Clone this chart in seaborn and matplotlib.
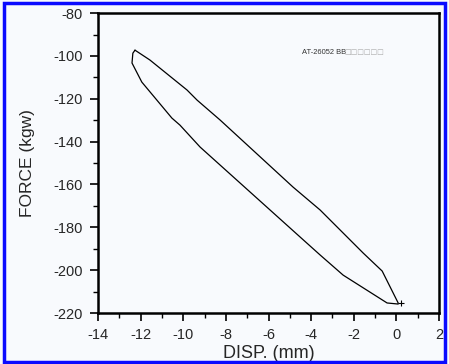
import numpy as np
import pandas as pd
import seaborn as sns
import matplotlib.pyplot as plt
from matplotlib.patches import Rectangle
from matplotlib.ticker import MultipleLocator

# hysteresis loop (loading branch then unloading branch)
disp = [-12.26, -11.56, -9.82, -9.35, -8.27, -4.85, -3.58, -1.56, -0.67, 0.08,
        0.08, -0.44, -2.50, -3.58, -4.52, -9.21, -10.15, -10.53, -11.94, -12.40, -12.36, -12.26]
force = [-97.3, -101.9, -115.9, -120.6, -129.9, -161.2, -171.9, -192.0, -200.4, -215.3,
         -215.8, -215.3, -202.3, -192.9, -184.5, -142.5, -132.3, -129.0, -112.2, -103.3, -98.7, -97.3]
label_text = 'AT-26052 BB'

df = pd.DataFrame({'disp': disp, 'force': force})

sns.set_style('ticks')
plt.rcParams['font.family'] = ['Liberation Sans', 'DejaVu Sans']
plt.rcParams['axes.unicode_minus'] = False

fig = plt.figure(figsize=(4.49, 3.64), dpi=100)
fig.patch.set_facecolor('#f8fafd')
ax = fig.add_axes([0.218, 0.140, 0.760, 0.824])
ax.set_facecolor('#f8fafd')

sns.lineplot(data=df, x='disp', y='force', sort=False, color='black',
             linewidth=0.9, estimator=None, ax=ax)
ax.plot([0.2], [-215.3], marker='+', color='black', markersize=4, mew=0.8)

ax.set_xlim(-14, 2)
ax.set_ylim(-220, -80)
ax.xaxis.set_major_locator(MultipleLocator(2))
ax.xaxis.set_minor_locator(MultipleLocator(1))
ax.yaxis.set_major_locator(MultipleLocator(20))
ax.yaxis.set_minor_locator(MultipleLocator(10))
ax.tick_params(which='major', direction='out', length=6, width=1.2, labelsize=10.5,
               color='black', pad=5)
ax.tick_params(which='minor', direction='out', length=3.5, width=1.0, color='black')
for s in ax.spines.values():
    s.set_visible(True)
    s.set_linewidth(1.8)
    s.set_color('black')

ax.set_xlabel('DISP. (mm)', fontsize=13, labelpad=2)
ax.set_ylabel('FORCE (kgw)', fontsize=12.5, labelpad=13)

ax.text(-4.43, -98.4, label_text, fontsize=5.4, color='#333333', ha='left', va='center')
ax.text(-2.45, -98.4, '\u25a1' * 6, fontsize=5, color='#aaaaaa', ha='left', va='center',
        family='DejaVu Sans')

fig.patches.append(Rectangle((0.008, 0.005), 0.984, 0.988, transform=fig.transFigure,
                             fill=False, edgecolor='#0a0aff', linewidth=2.5))

fig.savefig('out.png', dpi=100, facecolor=fig.get_facecolor())
